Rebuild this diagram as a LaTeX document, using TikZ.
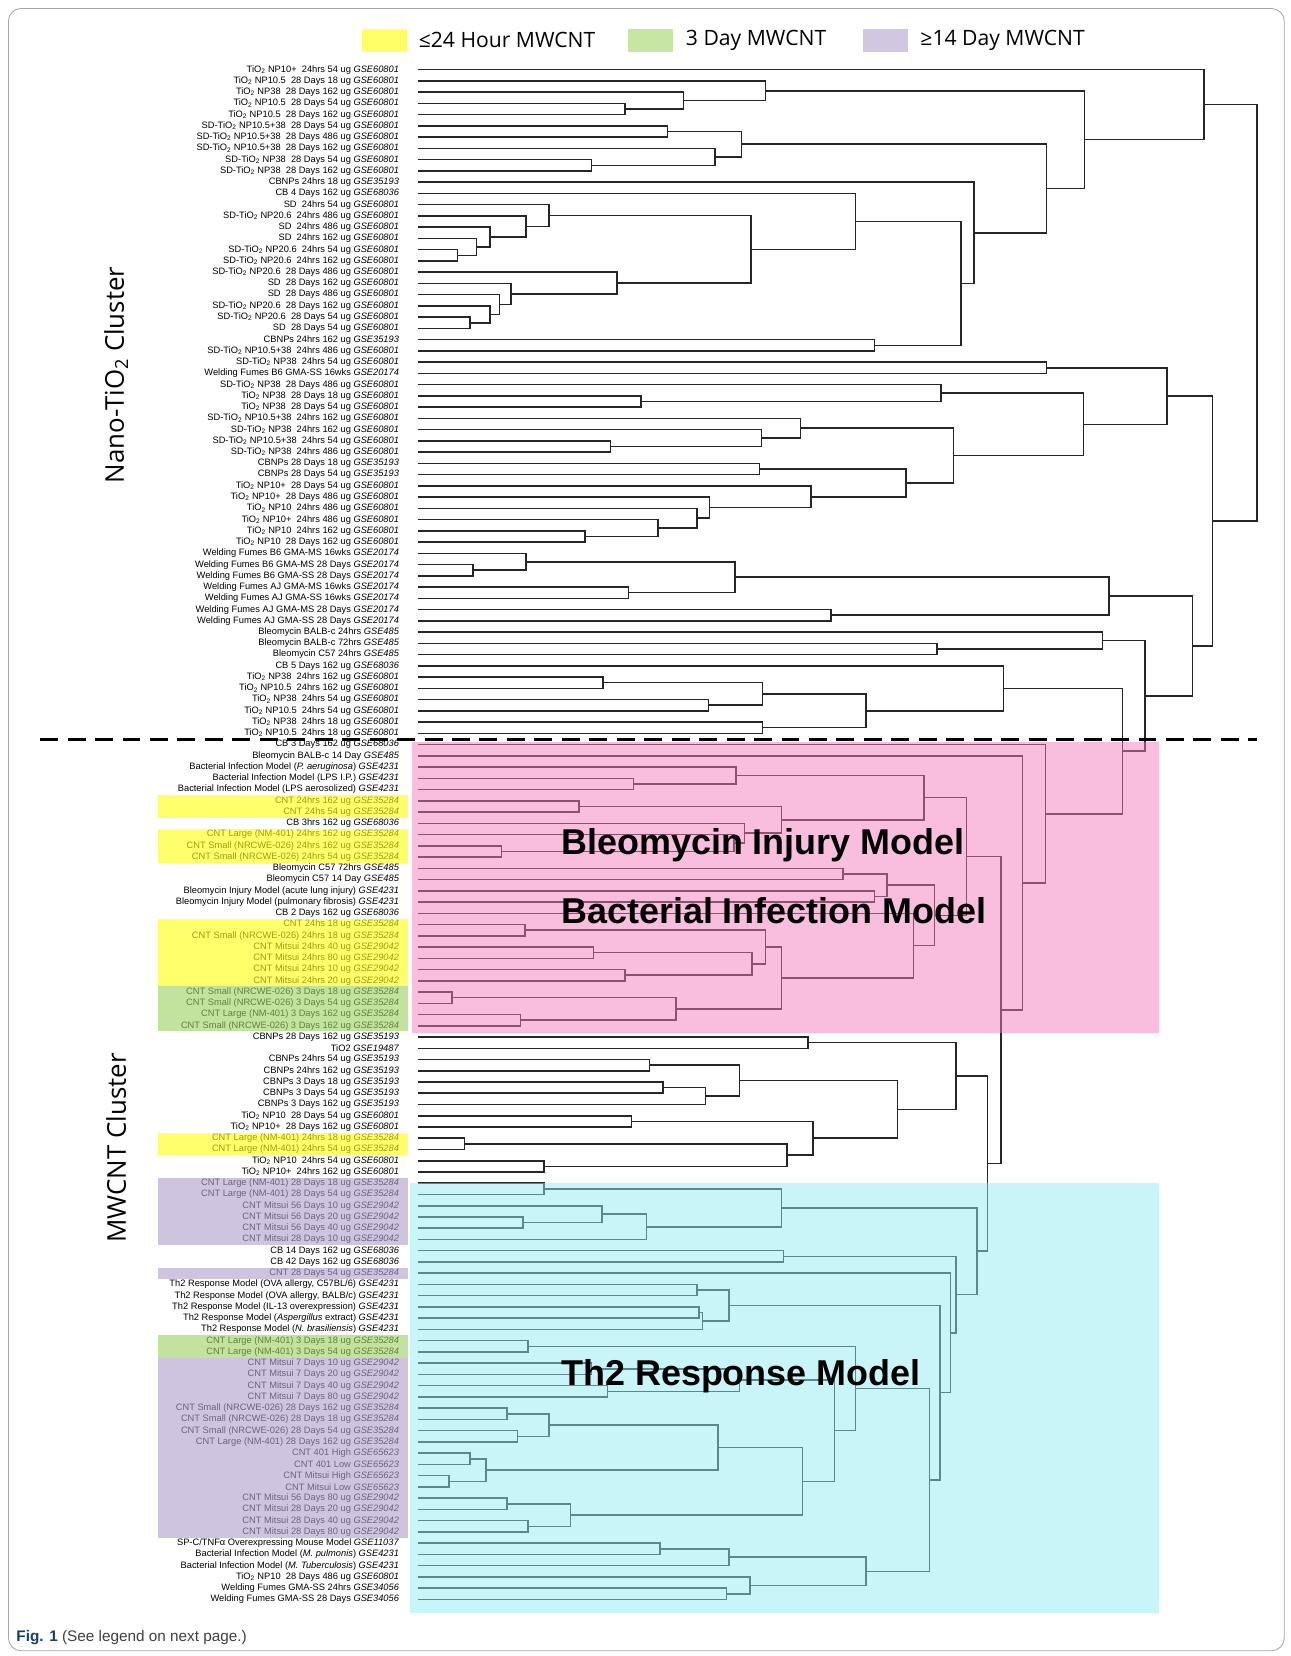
\documentclass[tikz,border=0pt]{standalone}
\usepackage{fontspec}
\setmainfont{Liberation Sans}
\newfontfamily\legendfont{Open Sans}
\usetikzlibrary{calc}
\definecolor{hlyellow}{RGB}{255,255,17}
\definecolor{hlgreen}{RGB}{155,210,97}
\definecolor{hlpurple}{RGB}{177,160,205}
\definecolor{lgyellow}{RGB}{255,255,102}
\definecolor{lggreen}{RGB}{199,230,163}
\definecolor{lgpurple}{RGB}{209,199,224}
\definecolor{bleopink}{RGB}{243,125,189}
\definecolor{thcyan}{RGB}{145,235,241}
\definecolor{figblue}{RGB}{25,60,110}
\newcommand\ti{TiO\textsubscript{2}}
\newcommand\gse[1]{\textit{GSE#1}}

\begin{document}
\begin{tikzpicture}[x=1pt, y=-1pt,
    lbl/.style={anchor=east, inner sep=0pt, font=\fontsize{8.8}{9}\selectfont},
    branch/.style={line width=1.45pt, black!85},
    hlbox/.style={fill opacity=0.62},
    zone/.style={fill opacity=0.5},
    model/.style={anchor=west, font=\fontsize{34}{36}\selectfont\bfseries},
    cluster/.style={rotate=90, font=\legendfont\fontsize{24.5}{26}\selectfont},
    legend/.style={anchor=west, font=\legendfont\fontsize{20}{21}\selectfont}
  ]
  \useasboundingbox (0,0) rectangle (1222,1568);
  \draw[gray!70, line width=0.8pt, rounded corners=12pt] (8,8) rectangle (1216,1563);

  % legend
  \fill[lgyellow] (343,27) rectangle (385,49);
  \node[legend] (lg1) at (393,38) {≤24 Hour MWCNT};
  \fill[lggreen] (595,27) rectangle (637,49);
  \node[legend] (lg2) at (646,38) {3 Day MWCNT};
  \fill[lgpurple] (817,27) rectangle (860,49);
  \node[legend] (lg3) at (868,38) {≥14 Day MWCNT};

  % leaves and their labels
  \foreach \lab [count=\i] in {
    {\ti\ NP10+~ 24hrs 54 ug \gse{60801}}, {\ti\ NP10.5~ 28 Days 18 ug \gse{60801}},
    {\ti\ NP38~ 28 Days 162 ug \gse{60801}}, {\ti\ NP10.5~ 28 Days 54 ug \gse{60801}},
    {\ti\ NP10.5~ 28 Days 162 ug \gse{60801}}, {SD-\ti\ NP10.5+38~ 28 Days 54 ug \gse{60801}},
    {SD-\ti\ NP10.5+38~ 28 Days 486 ug \gse{60801}}, {SD-\ti\ NP10.5+38~ 28 Days 162 ug \gse{60801}},
    {SD-\ti\ NP38~ 28 Days 54 ug \gse{60801}}, {SD-\ti\ NP38~ 28 Days 162 ug \gse{60801}},
    {CBNPs 24hrs 18 ug \gse{35193}}, {CB 4 Days 162 ug \gse{68036}},
    {SD~ 24hrs 54 ug \gse{60801}}, {SD-\ti\ NP20.6~ 24hrs 486 ug \gse{60801}},
    {SD~ 24hrs 486 ug \gse{60801}}, {SD~ 24hrs 162 ug \gse{60801}},
    {SD-\ti\ NP20.6~ 24hrs 54 ug \gse{60801}}, {SD-\ti\ NP20.6~ 24hrs 162 ug \gse{60801}},
    {SD-\ti\ NP20.6~ 28 Days 486 ug \gse{60801}}, {SD~ 28 Days 162 ug \gse{60801}},
    {SD~ 28 Days 486 ug \gse{60801}}, {SD-\ti\ NP20.6~ 28 Days 162 ug \gse{60801}},
    {SD-\ti\ NP20.6~ 28 Days 54 ug \gse{60801}}, {SD~ 28 Days 54 ug \gse{60801}},
    {CBNPs 24hrs 162 ug \gse{35193}}, {SD-\ti\ NP10.5+38~ 24hrs 486 ug \gse{60801}},
    {SD-\ti\ NP38~ 24hrs 54 ug \gse{60801}}, {Welding Fumes B6 GMA-SS 16wks \gse{20174}},
    {SD-\ti\ NP38~ 28 Days 486 ug \gse{60801}}, {\ti\ NP38~ 28 Days 18 ug \gse{60801}},
    {\ti\ NP38~ 28 Days 54 ug \gse{60801}}, {SD-\ti\ NP10.5+38~ 24hrs 162 ug \gse{60801}},
    {SD-\ti\ NP38~ 24hrs 162 ug \gse{60801}}, {SD-\ti\ NP10.5+38~ 24hrs 54 ug \gse{60801}},
    {SD-\ti\ NP38~ 24hrs 486 ug \gse{60801}}, {CBNPs 28 Days 18 ug \gse{35193}},
    {CBNPs 28 Days 54 ug \gse{35193}}, {\ti\ NP10+~ 28 Days 54 ug \gse{60801}},
    {\ti\ NP10+~ 28 Days 486 ug \gse{60801}}, {\ti\ NP10~ 24hrs 486 ug \gse{60801}},
    {\ti\ NP10+~ 24hrs 486 ug \gse{60801}}, {\ti\ NP10~ 24hrs 162 ug \gse{60801}},
    {\ti\ NP10~ 28 Days 162 ug \gse{60801}}, {Welding Fumes B6 GMA-MS 16wks \gse{20174}},
    {Welding Fumes B6 GMA-MS 28 Days \gse{20174}}, {Welding Fumes B6 GMA-SS 28 Days \gse{20174}},
    {Welding Fumes AJ GMA-MS 16wks \gse{20174}}, {Welding Fumes AJ GMA-SS 16wks \gse{20174}},
    {Welding Fumes AJ GMA-MS 28 Days \gse{20174}}, {Welding Fumes AJ GMA-SS 28 Days \gse{20174}},
    {Bleomycin BALB-c 24hrs \gse{485}}, {Bleomycin BALB-c 72hrs \gse{485}},
    {Bleomycin C57 24hrs \gse{485}}, {CB 5 Days 162 ug \gse{68036}},
    {\ti\ NP38~ 24hrs 162 ug \gse{60801}}, {\ti\ NP10.5~ 24hrs 162 ug \gse{60801}},
    {\ti\ NP38~ 24hrs 54 ug \gse{60801}}, {\ti\ NP10.5~ 24hrs 54 ug \gse{60801}},
    {\ti\ NP38~ 24hrs 18 ug \gse{60801}}, {\ti\ NP10.5~ 24hrs 18 ug \gse{60801}},
    {CB 3 Days 162 ug \gse{68036}}, {Bleomycin BALB-c 14 Day \gse{485}},
    {Bacterial Infection Model (\textit{P. aeruginosa}) \gse{4231}},
    {Bacterial Infection Model (LPS I.P.) \gse{4231}},
    {Bacterial Infection Model (LPS aerosolized) \gse{4231}},
    {CNT 24hrs 162 ug \gse{35284}}, {CNT 24hs 54 ug \gse{35284}},
    {CB 3hrs 162 ug \gse{68036}}, {CNT Large (NM-401) 24hrs 162 ug \gse{35284}},
    {CNT Small (NRCWE-026) 24hrs 162 ug \gse{35284}}, {CNT Small (NRCWE-026) 24hrs 54 ug \gse{35284}},
    {Bleomycin C57 72hrs \gse{485}}, {Bleomycin C57 14 Day \gse{485}},
    {Bleomycin Injury Model (acute lung injury) \gse{4231}},
    {Bleomycin Injury Model (pulmonary fibrosis) \gse{4231}},
    {CB 2 Days 162 ug \gse{68036}}, {CNT 24hs 18 ug \gse{35284}},
    {CNT Small (NRCWE-026) 24hrs 18 ug \gse{35284}}, {CNT Mitsui 24hrs 40 ug \gse{29042}},
    {CNT Mitsui 24hrs 80 ug \gse{29042}}, {CNT Mitsui 24hrs 10 ug \gse{29042}},
    {CNT Mitsui 24hrs 20 ug \gse{29042}}, {CNT Small (NRCWE-026) 3 Days 18 ug \gse{35284}},
    {CNT Small (NRCWE-026) 3 Days 54 ug \gse{35284}}, {CNT Large (NM-401) 3 Days 162 ug \gse{35284}},
    {CNT Small (NRCWE-026) 3 Days 162 ug \gse{35284}}, {CBNPs 28 Days 162 ug \gse{35193}},
    {TiO2 \gse{19487}}, {CBNPs 24hrs 54 ug \gse{35193}},
    {CBNPs 24hrs 162 ug \gse{35193}}, {CBNPs 3 Days 18 ug \gse{35193}},
    {CBNPs 3 Days 54 ug \gse{35193}}, {CBNPs 3 Days 162 ug \gse{35193}},
    {\ti\ NP10~ 28 Days 54 ug \gse{60801}}, {\ti\ NP10+~ 28 Days 162 ug \gse{60801}},
    {CNT Large (NM-401) 24hrs 18 ug \gse{35284}}, {CNT Large (NM-401) 24hrs 54 ug \gse{35284}},
    {\ti\ NP10~ 24hrs 54 ug \gse{60801}}, {\ti\ NP10+~ 24hrs 162 ug \gse{60801}},
    {CNT Large (NM-401) 28 Days 18 ug \gse{35284}}, {CNT Large (NM-401) 28 Days 54 ug \gse{35284}},
    {CNT Mitsui 56 Days 10 ug \gse{29042}}, {CNT Mitsui 56 Days 20 ug \gse{29042}},
    {CNT Mitsui 56 Days 40 ug \gse{29042}}, {CNT Mitsui 28 Days 10 ug \gse{29042}},
    {CB 14 Days 162 ug \gse{68036}}, {CB 42 Days 162 ug \gse{68036}},
    {CNT 28 Days 54 ug \gse{35284}},
    {Th2 Response Model (OVA allergy, C57BL/6) \gse{4231}},
    {Th2 Response Model (OVA allergy, BALB/c) \gse{4231}},
    {Th2 Response Model (IL-13 overexpression) \gse{4231}},
    {Th2 Response Model (\textit{Aspergillus} extract) \gse{4231}},
    {Th2 Response Model (\textit{N. brasiliensis}) \gse{4231}},
    {CNT Large (NM-401) 3 Days 18 ug \gse{35284}}, {CNT Large (NM-401) 3 Days 54 ug \gse{35284}},
    {CNT Mitsui 7 Days 10 ug \gse{29042}}, {CNT Mitsui 7 Days 20 ug \gse{29042}},
    {CNT Mitsui 7 Days 40 ug \gse{29042}}, {CNT Mitsui 7 Days 80 ug \gse{29042}},
    {CNT Small (NRCWE-026) 28 Days 162 ug \gse{35284}}, {CNT Small (NRCWE-026) 28 Days 18 ug \gse{35284}},
    {CNT Small (NRCWE-026) 28 Days 54 ug \gse{35284}}, {CNT Large (NM-401) 28 Days 162 ug \gse{35284}},
    {CNT 401 High \gse{65623}}, {CNT 401 Low \gse{65623}},
    {CNT Mitsui High \gse{65623}}, {CNT Mitsui Low \gse{65623}},
    {CNT Mitsui 56 Days 80 ug \gse{29042}}, {CNT Mitsui 28 Days 20 ug \gse{29042}},
    {CNT Mitsui 28 Days 40 ug \gse{29042}}, {CNT Mitsui 28 Days 80 ug \gse{29042}},
    {SP-C/TNFα Overexpressing Mouse Model \gse{11037}},
    {Bacterial Infection Model (\textit{M. pulmonis}) \gse{4231}},
    {Bacterial Infection Model (\textit{M. Tuberculosis}) \gse{4231}},
    {\ti\ NP10~ 28 Days 486 ug \gse{60801}}, {Welding Fumes GMA-SS 24hrs \gse{34056}},
    {Welding Fumes GMA-SS 28 Days \gse{34056}}}
  {
    \node[lbl] (t\i) at (378, {66+(\i-1)*10.65}) {\lab};
    \coordinate (l\i) at (396, {66+(\i-1)*10.65});
  }

  % dendrogram: name / child / child / merge height
  \newcommand\dmerge[4]{%
    \path let \p1=($(#2)!.5!(#3)$) in coordinate (#1) at (#4pt,\y1);
    \draw[branch] (#2) -- (#2 -| #1) -- (#3 -| #1) -- (#3);
  }
  \foreach \nm/\ca/\cb/\hh in {
    a45/l4/l5/592, a3/l3/a45/647, a2/l2/a3/725, a67/l6/l7/632, a910/l9/l10/560,
    a8/l8/a910/677, a610/a67/a8/702,
    b1718/l17/l18/433, b16/l16/b1718/451, b15/l15/b16/464, b14/l14/b15/498, b13/l13/b14/520,
    b2324/l23/l24/445, b22/l22/b2324/464, b21/l21/b22/473, b20/l20/b21/484, b19/l19/b20/584,
    b1324/b13/b19/711, b12/l12/b1324/810, b2526/l25/l26/828, b1226/b12/b2526/910,
    b11/l11/b1226/922, a626/a610/b11/991, a226/a2/a626/1027, a126/l1/a226/1140,
    c2728/l27/l28/991, c3031/l30/l31/607, c29/l29/c3031/891, c3435/l34/l35/578,
    c33/l33/c3435/721, c32/l32/c33/758, c3637/l36/l37/719, d4243/l42/l43/554,
    d41/l41/d4243/623, d40/l40/d41/660, d39/l39/d40/672, d38/l38/d39/768,
    c3643/c3637/d38/858, c3243/c32/c3643/903, c2943/c29/c3243/1026, c2743/c2728/c2943/1105,
    g4546/l45/l46/448, g44/l44/g4546/498, g4748/l47/l48/595, g4448/g44/g4748/696,
    g4950/l49/l50/787, g4450/g4448/g4950/1050, h5253/l52/l53/887, h51/l51/h5253/1044,
    k5556/l55/l56/571, k5758/l57/l58/671, k5558/k5556/k5758/722, k5960/l59/l60/722,
    k5560/k5558/k5960/820, k54/l54/k5560/950,
    p1/l64/l65/600, p2/l63/p1/697, p3/l66/l67/548, p4/l70/l71/475, p5/l69/p4/695,
    p6/l68/p5/705, p7/p3/p6/740, p8/p2/p7/875, p9/l72/l73/798, p10/l74/l75/828,
    p11/p9/p10/840, q1/l77/l78/497, q2/l79/l80/562, q3/l81/l82/592, q4/q2/q3/712,
    q5/q1/q4/725, q6/l83/l84/428, q7/l85/l86/493, q8/q6/q7/640, q9/q5/q8/740,
    q10/l76/q9/865, q11/p11/q10/885, q12/p8/q11/915,
    w0/l87/l88/765, w1/l89/l90/615, w2/l91/l92/628, w3/w2/l93/668, w4/w1/w3/700,
    w5/l94/l95/598, w6/l96/l97/440, w7/l98/l99/515, w8/w6/w7/745, w9/w5/w8/770,
    w10/w4/w9/850, w13/w0/w10/905,
    r1/l100/l101/515, r2/l103/l104/495, r3/l102/r2/570, r4/r3/l105/612, r5/r1/r4/740,
    r6/l106/l107/742, r8/l109/l110/660, r9/l111/l112/662, r10/r9/l113/665, r11/r8/r10/690,
    r12/l114/l115/500, r13/l116/l117/560, r14/l118/l119/575, r15/r13/r14/700,
    r16/l120/l121/480, r17/l122/l123/490, r18/r16/r17/520, r19/l124/l125/445,
    r20/l126/l127/425, r21/r19/r20/460, r22/r18/r21/680, r23/l128/l129/480,
    r24/l130/l131/500, r25/r23/r24/540, r26/r22/r25/760, r27/r15/r26/790,
    r28/r12/r27/810, r29/l132/l133/625, r30/r29/l134/690, r31/l136/l137/688,
    r32/l135/r31/710, r33/r30/r32/820, r34/r28/r33/880, r35/r11/r34/890,
    r36/l108/r35/900, r37/r6/r36/905, r38/r5/r37/925,
    mq/w13/r38/935, mv/q12/mq/948, mw/l62/mv/968, mz/l61/mw/990,
    nb/k54/mz/1063, na/h51/nb/1084, g44a/g4450/na/1129, c27a/c2743/g44a/1148,
    root/a126/c27a/1190}
  {\edef\domerge{\noexpand\dmerge{\nm}{\ca}{\cb}{\hh}}\domerge}

  % shaded model zones
  \fill[bleopink, zone] (390,703) rectangle (1097,978);
  \fill[thcyan, zone] (388,1120) rectangle (1097,1527);

  % highlighted MWCNT labels
  \newcommand\hlrows[3]{%
    \fill[#1, hlbox] (150,{66+(#2-1)*10.65-5.33}) rectangle (386,{66+(#3-1)*10.65+5.33});}
  \hlrows{hlyellow}{66}{67}
  \hlrows{hlyellow}{69}{71}
  \hlrows{hlyellow}{77}{82}
  \hlrows{hlyellow}{96}{97}
  \hlrows{hlgreen}{83}{86}
  \hlrows{hlgreen}{114}{115}
  \hlrows{hlpurple}{100}{105}
  \hlrows{hlpurple}{108}{108}
  \hlrows{hlpurple}{116}{131}

  % model names
  \node[model] (bim) at (528,800) {Bleomycin Injury Model};
  \node[model] (bac) at (528,862) {Bacterial Infection Model};
  \node[model] (th2) at (528,1303) {Th2 Response Model};

  % cluster split
  \draw[line width=2.6pt, dash pattern=on 17pt off 9pt] (38,700) -- (1190,700);
  \node[cluster] (nano) at (110,355) {Nano-TiO\textsubscript{2} Cluster};
  \node[cluster] (mw) at (110,1087) {MWCNT Cluster};

  % caption
  \node[anchor=west, font=\fontsize{14.5}{16}\selectfont] (cap) at (12,1551)
    {\textcolor{figblue}{\bfseries Fig. 1}\ \textcolor{black!75}{(See legend on next page.)}};
\end{tikzpicture}
\end{document}
